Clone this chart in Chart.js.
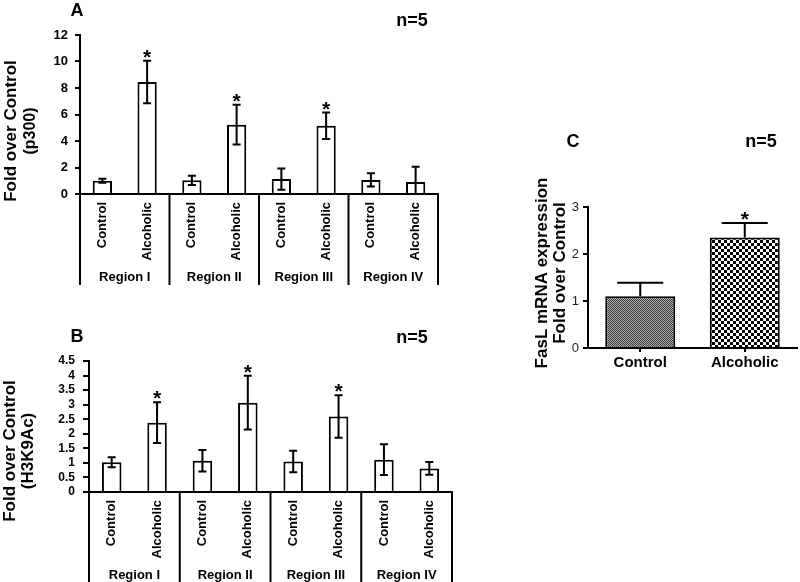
<!DOCTYPE html>
<html>
<head>
<meta charset="utf-8">
<script src="https://cdn.jsdelivr.net/npm/chart.js@4"></script>
<style>
  body { margin: 0; background: #fff; }
  #wrap { position: relative; width: 800px; height: 582px; overflow: hidden; font-family: "Liberation Sans", Arial, sans-serif; }
  canvas { position: absolute; }
  .lbl { position: absolute; transform: translate(-50%, -50%); font-weight: bold; color: #000; white-space: nowrap; }
</style>
</head>
<body>
<div id="wrap">
  <canvas id="chartA" width="460" height="290" style="left:0;top:0"></canvas>
  <canvas id="chartB" width="460" height="292" style="left:0;top:290px"></canvas>
  <canvas id="chartC" width="340" height="262" style="left:460px;top:120px"></canvas>
  <div class="lbl" style="left:77px;top:10px;font-size:18px">A</div>
  <div class="lbl" style="left:412px;top:20px;font-size:18px">n=5</div>
  <div class="lbl" style="left:77px;top:336px;font-size:18px">B</div>
  <div class="lbl" style="left:412px;top:337px;font-size:18px">n=5</div>
  <div class="lbl" style="left:573px;top:141px;font-size:18px">C</div>
  <div class="lbl" style="left:761px;top:141px;font-size:18px">n=5</div>
</div>
<script>
const FONT = '"Liberation Sans", Arial, sans-serif';

const regions = ["Region I", "Region II", "Region III", "Region IV"];
const groups = ["Control", "Alcoholic"];

// panel A: p300
const p300Mean = [1.0, 8.45, 1.03, 5.23, 1.13, 5.15, 1.06, 0.9];
const p300Err = [0.15, 1.6, 0.35, 1.5, 0.8, 1.0, 0.5, 1.15];
const p300Sig = [false, true, false, true, false, true, false, false];

// panel B: H3K9Ac
const h3k9Mean = [1.02, 2.38, 1.07, 3.07, 1.05, 2.59, 1.11, 0.81];
const h3k9Err = [0.17, 0.7, 0.37, 0.92, 0.37, 0.73, 0.53, 0.22];
const h3k9Sig = [false, true, false, true, false, true, false, false];

// panel C: FasL mRNA
const faslLabels = ["Control", "Alcoholic"];
const faslMean = [1.1, 2.35];
const faslErr = [0.29, 0.31];
const faslSig = [false, true];

const barLabels = regions.flatMap(() => groups);

function checker(size, dark, light) {
  const c = document.createElement("canvas");
  c.width = c.height = size * 2;
  const g = c.getContext("2d");
  g.fillStyle = light;
  g.fillRect(0, 0, size * 2, size * 2);
  g.fillStyle = dark;
  g.fillRect(0, 0, size, size);
  g.fillRect(size, size, size, size);
  return g.createPattern(c, "repeat");
}

// error bars, asterisks, region brackets and the y title
const deco = {
  id: "deco",
  afterDatasetsDraw(chart, args, o) {
    const ctx = chart.ctx;
    const x = chart.scales.x;
    const y = chart.scales.y;
    const ca = chart.chartArea;
    const vals = chart.data.datasets[0].data;
    ctx.save();
    ctx.strokeStyle = "#000";
    ctx.fillStyle = "#000";
    ctx.lineWidth = 2;
    chart.getDatasetMeta(0).data.forEach((bar, i) => {
      const v = vals[i];
      const e = o.err[i];
      const top = y.getPixelForValue(v + e);
      const low = Math.max(0, v - e);
      const bot = o.both ? y.getPixelForValue(low) : y.getPixelForValue(v);
      ctx.beginPath();
      ctx.moveTo(bar.x, top);
      ctx.lineTo(bar.x, bot);
      ctx.moveTo(bar.x - o.cap, top);
      ctx.lineTo(bar.x + o.cap, top);
      if (o.both && low > 0) {
        ctx.moveTo(bar.x - o.cap, bot);
        ctx.lineTo(bar.x + o.cap, bot);
      }
      ctx.stroke();
      if (o.sig[i]) {
        ctx.font = "bold 21px " + FONT;
        ctx.textAlign = "center";
        ctx.textBaseline = "alphabetic";
        ctx.fillText("*", bar.x, top + 3);
      }
    });

    if (o.regionY) {
      const half = (x.getPixelForValue(1) - x.getPixelForValue(0)) / 2;
      const edges = regions.map((r, k) => x.getPixelForValue(k * 2) - half);
      edges.push(x.getPixelForValue(regions.length * 2 - 1) + half);
      ctx.beginPath();
      edges.forEach((ex) => {
        ctx.moveTo(ex, ca.bottom);
        ctx.lineTo(ex, o.sepEnd);
      });
      ctx.stroke();
      ctx.font = "bold 13px " + FONT;
      ctx.textAlign = "center";
      ctx.textBaseline = "middle";
      regions.forEach((r, k) => {
        ctx.fillText(r, (edges[k] + edges[k + 1]) / 2, o.regionY);
      });
    }

    ctx.textAlign = "center";
    ctx.textBaseline = "middle";
    o.ytitle.forEach((t) => {
      ctx.save();
      ctx.font = "bold " + t.size + "px " + FONT;
      ctx.translate(t.x, o.titleY);
      ctx.rotate(-Math.PI / 2);
      ctx.fillText(t.text, 0, 0);
      ctx.restore();
    });
    ctx.restore();
  },
};

function regionChart(id, mean, err, sig, opts) {
  return new Chart(document.getElementById(id), {
    type: "bar",
    data: {
      labels: barLabels,
      datasets: [{
        data: mean,
        backgroundColor: "#fff",
        borderColor: "#000",
        borderWidth: 2,
        categoryPercentage: 1,
        barPercentage: 0.43,
      }],
    },
    options: {
      responsive: false,
      animation: false,
      events: [],
      layout: { padding: { top: opts.top, right: opts.right, left: 0, bottom: 0 } },
      plugins: {
        legend: { display: false },
        tooltip: { enabled: false },
        deco: {
          err, sig, both: true, cap: 4,
          regionY: opts.regionY, sepEnd: opts.sepEnd,
          titleY: opts.titleY, ytitle: opts.ytitle,
        },
      },
      scales: {
        x: {
          afterFit: (s) => { s.height = opts.xh; },
          border: { color: "#000", width: 2 },
          grid: { drawOnChartArea: false, drawTicks: false },
          ticks: {
            color: "#000", font: { family: FONT, size: 13, weight: "bold" },
            minRotation: 90, maxRotation: 90, autoSkip: false, padding: 8,
          },
        },
        y: {
          min: 0, max: opts.max,
          afterFit: (s) => { s.width = opts.yw; },
          border: { color: "#000", width: 2 },
          grid: { drawOnChartArea: false, color: "#000", lineWidth: 2, tickLength: opts.tl },
          ticks: {
            stepSize: opts.step, autoSkip: false, color: "#000", padding: opts.tp,
            font: { family: FONT, size: opts.fs, weight: "bold" },
            callback: (v) => String(Math.round(v * 10) / 10),
          },
        },
      },
    },
    plugins: [deco],
  });
}

regionChart("chartA", p300Mean, p300Err, p300Sig, {
  top: 35, right: 22, xh: 96, yw: 80, max: 12, step: 2, tl: 5, tp: 7, fs: 13,
  regionY: 277, sepEnd: 285, titleY: 131,
  ytitle: [
    { text: "Fold over Control", x: 11, size: 17 },
    { text: "(p300)", x: 31, size: 16 },
  ],
});

regionChart("chartB", h3k9Mean, h3k9Err, h3k9Sig, {
  top: 71, right: 8, xh: 90, yw: 89, max: 4.5, step: 0.5, tl: 6, tp: 8, fs: 12,
  regionY: 285, sepEnd: 292, titleY: 161,
  ytitle: [
    { text: "Fold over Control", x: 10, size: 17 },
    { text: "(H3K9Ac)", x: 28, size: 17 },
  ],
});

new Chart(document.getElementById("chartC"), {
  type: "bar",
  data: {
    labels: faslLabels,
    datasets: [{
      data: faslMean,
      backgroundColor: [checker(1, "#3a3a3a", "#b0b0b0"), checker(3, "#000", "#fff")],
      borderColor: "#000",
      borderWidth: 2,
      categoryPercentage: 1,
      barPercentage: 0.67,
    }],
  },
  options: {
    responsive: false,
    animation: false,
    events: [],
    layout: { padding: { top: 87, right: 3, left: 0, bottom: 0 } },
    plugins: {
      legend: { display: false },
      tooltip: { enabled: false },
      deco: {
        err: faslErr, sig: faslSig, both: false, cap: 23,
        titleY: 153,
        ytitle: [
          { text: "FasL mRNA expression", x: 82, size: 17 },
          { text: "Fold over Control", x: 100, size: 17 },
        ],
      },
    },
    scales: {
      x: {
        afterFit: (s) => { s.height = 34; },
        border: { color: "#000", width: 2 },
        grid: { drawOnChartArea: false, offset: false, color: "#000", lineWidth: 2, tickLength: 4 },
        ticks: { color: "#000", padding: 2, font: { family: FONT, size: 15, weight: "bold" } },
      },
      y: {
        min: 0, max: 3,
        afterFit: (s) => { s.width = 128; },
        border: { color: "#000", width: 2 },
        grid: { drawOnChartArea: false, color: "#000", lineWidth: 2, tickLength: 5 },
        ticks: { stepSize: 1, color: "#222", padding: 4, font: { family: FONT, size: 13 } },
      },
    },
  },
  plugins: [deco],
});
</script>
</body>
</html>
